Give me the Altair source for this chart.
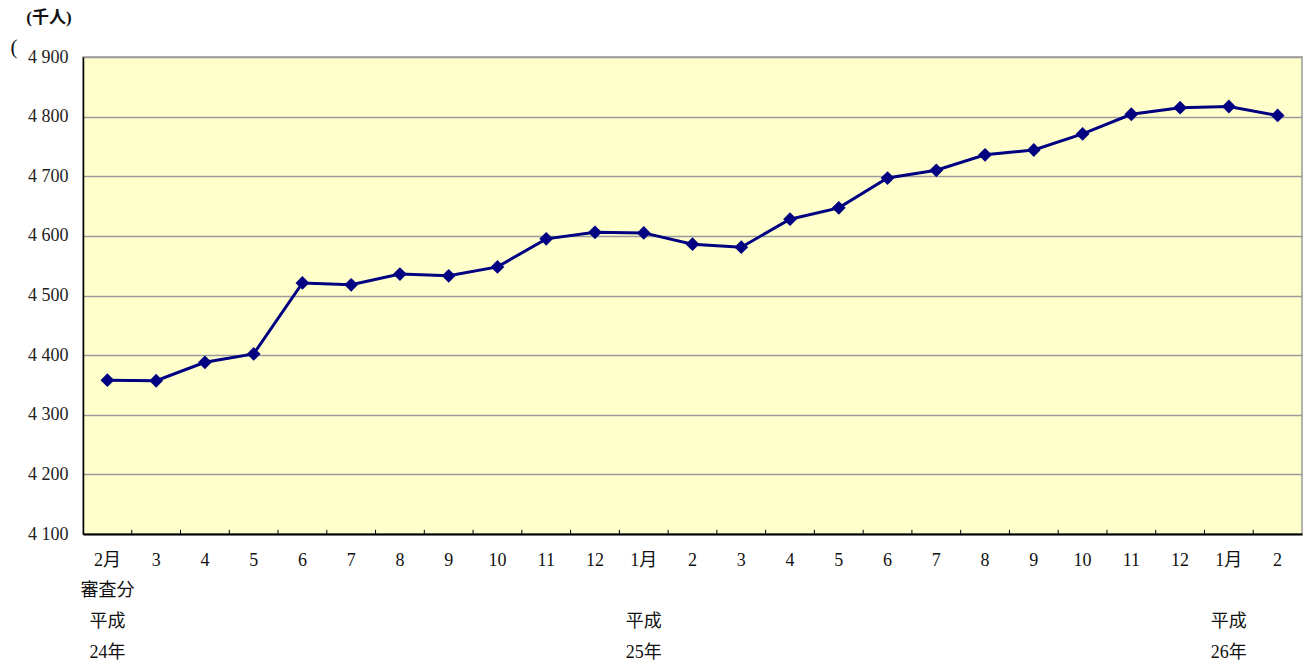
import altair as alt
import pandas as pd

# Monthly counts (thousand persons), Heisei 24/2 to Heisei 26/2
months = ["2月", "3", "4", "5", "6", "7", "8", "9", "10", "11", "12", "1月",
          "2", "3", "4", "5", "6", "7", "8", "9", "10", "11", "12", "1月", "2"]
values = [4358, 4357, 4388, 4402, 4521, 4518, 4536, 4533, 4548, 4595, 4606, 4605,
          4586, 4581, 4628, 4647, 4697, 4710, 4736, 4744, 4771, 4804, 4815, 4817, 4802]

# Extra label lines under the month axis: (category index, text, line number)
note_idx = [0, 0, 0, 11, 11, 23, 23]
note_text = ["審査分", "平成", "24年", "平成", "25年", "平成", "26年"]
note_line = [1, 2, 3, 2, 3, 2, 3]

FONT = "'Liberation Serif', 'Noto Sans CJK JP'"
W, H = 1219, 477
FIRST_LINE = 26
LINE_STEP = 31

df = pd.DataFrame({"idx": list(range(len(months))), "value": values})
notes = pd.DataFrame({"idx": note_idx, "text": note_text,
                      "py": [H + FIRST_LINE + n * LINE_STEP for n in note_line]})
tick_df = pd.DataFrame({"idx": list(range(1, len(months))), "lo": 4100, "hi": 4107})

label_expr = "[" + ",".join(f"'{m}'" for m in months) + "][datum.value]"

x_scale = alt.Scale(type="band", paddingInner=0, paddingOuter=0,
                    domain=list(range(len(months))))
y_scale = alt.Scale(domain=[4100, 4900], nice=False, zero=False)

x_axis = alt.Axis(title=None, labelExpr=label_expr, labelAngle=0, ticks=False,
                  domainColor="#000000", domainWidth=2, labelFont=FONT,
                  labelFontSize=18, labelColor="#111111", labelPadding=26,
                  labelBaseline="middle", grid=False)
y_axis = alt.Axis(title=None, values=list(range(4100, 4901, 100)),
                  labelExpr="replace(format(datum.value, ',d'), ',', ' ')",
                  labelFont=FONT, labelFontSize=18, labelColor="#222222",
                  labelPadding=15, ticks=False, domainColor="#000000",
                  domainWidth=1.5, gridColor="#9a9a9a", gridWidth=1.5)

base = alt.Chart(df)

line = base.mark_line(color="#000080", strokeWidth=3).encode(
    x=alt.X("idx:O", scale=x_scale, axis=x_axis),
    y=alt.Y("value:Q", scale=y_scale, axis=y_axis),
)
pts = base.mark_point(shape="diamond", filled=True, color="#000080",
                      size=190, opacity=1).encode(
    x=alt.X("idx:O", scale=x_scale),
    y=alt.Y("value:Q", scale=y_scale),
)
ticks = alt.Chart(tick_df).mark_rule(color="#000000", strokeWidth=1).encode(
    x=alt.X("idx:O", scale=x_scale, bandPosition=0),
    y=alt.Y("lo:Q", scale=y_scale),
    y2="hi:Q",
)
note_marks = alt.Chart(notes).mark_text(font=FONT, fontSize=18, color="#111111",
                                        baseline="middle").encode(
    x=alt.X("idx:O", scale=x_scale),
    y=alt.Y("py:Q", scale=None),
    text="text:N",
)
unit = alt.Chart(pd.DataFrame({"t": ["(千人)"]})).mark_text(
    font=FONT, fontSize=17, fontWeight="bold", color="#111111", baseline="middle"
).encode(x=alt.value(-34), y=alt.value(-39), text="t:N")
paren = alt.Chart(pd.DataFrame({"t": ["("]})).mark_text(
    font=FONT, fontSize=21, color="#111111", baseline="middle"
).encode(x=alt.value(-69), y=alt.value(-9), text="t:N")

chart = alt.layer(line, ticks, pts, note_marks, unit, paren).properties(
    width=W, height=H,
    autosize=alt.AutoSizeParams(type="none"),
    padding={"left": 83, "top": 57, "right": 3, "bottom": 129},
    background="#ffffff",
).configure_view(fill="#ffffcc", stroke="#9a9a9a", strokeWidth=1.5)

chart.save("out.html", embed_options={"renderer": "svg", "actions": False})
